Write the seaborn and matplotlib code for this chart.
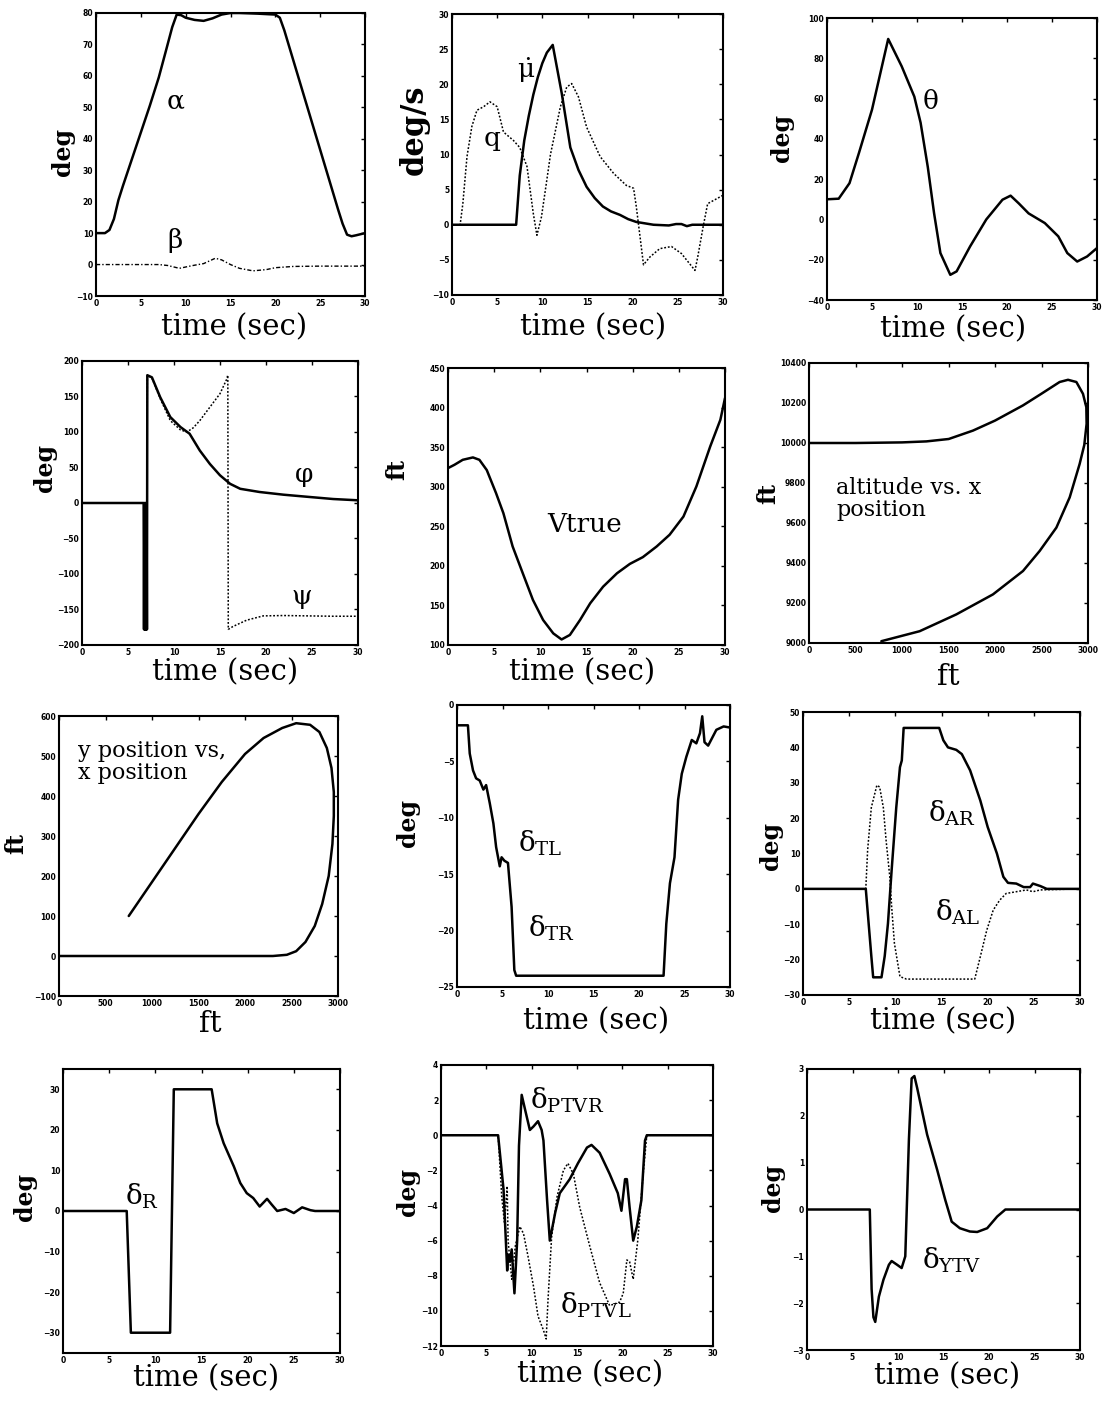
import matplotlib
matplotlib.use('Agg')
import matplotlib.pyplot as plt
import seaborn as sns

# ---- values ----
# angle of attack / sideslip
t_alpha = [0, 1, 1.5, 2, 2.5, 3, 4, 5, 6, 7, 7.8, 8.5, 9, 9.5, 10, 11, 12, 13, 14, 15, 16, 18, 20,
           20.5, 21, 22, 23, 24, 25, 26, 27, 27.5, 28, 28.5, 29, 30]
alpha = [10, 10, 11, 14.5, 20.5, 25, 33.5, 42, 50.5, 59.5, 68, 75.5, 79.5, 79.3, 78.5, 77.8, 77.5, 78.3,
         79.5, 80, 80, 79.8, 79.5, 78.5, 74.5, 65, 55.5, 46, 36.5, 27, 17.5, 13, 9.5, 9, 9.3, 10]
t_beta = [0, 7, 8, 9.3, 10.3, 11, 12, 13.3, 14, 15, 16, 17.5, 19, 20, 22, 25, 30]
beta = [0, 0, -0.3, -1.2, -0.6, -0.2, 0.3, 2.0, 1.5, 0, -1.2, -2.0, -1.6, -1.0, -0.6, -0.5, -0.5]

# rates
t_mudot = [0, 7.1, 7.5, 8, 8.5, 9, 9.5, 10, 10.5, 11.15, 11.6, 12.15, 13.1, 14, 14.9, 15.8, 16.7, 17.6,
           18.6, 19.5, 20.4, 22.3, 24, 24.8, 25.4, 26, 26.6, 27.2, 30]
mudot = [0, 0, 7, 12, 15.5, 18.5, 21, 23, 24.5, 25.6, 22.5, 18.7, 11, 7.8, 5.4, 3.8, 2.6, 1.9, 1.4, 0.8,
         0.4, 0, -0.1, 0.1, 0.1, -0.2, 0, 0, 0]
t_q = [0, 0.9, 1.2, 1.66, 2.2, 2.76, 3.5, 4.2, 5.0, 5.7, 6.8, 7.5, 8.3, 9.0, 9.4, 9.9, 10.4, 10.9, 12.0,
       12.7, 13.25, 14.0, 14.9, 16.4, 17.9, 19.3, 20.1, 20.4, 21.2, 21.9, 23.0, 24.3, 25.4, 26.9, 27.2,
       27.8, 28.3, 29.3, 30]
q = [0, 0, 3, 9.7, 14, 16.3, 16.8, 17.5, 16.8, 13.2, 12, 11, 8.3, 1.6, -1.5, 1.1, 5.5, 10, 16.8, 19.6,
     20.1, 18.2, 13.9, 9.7, 7.3, 5.6, 5.2, 2.6, -5.7, -4.6, -3.4, -3.1, -4.1, -6.5, -4.6, -0.3, 3, 3.7, 4.2]

# pitch
t_theta = [0, 1.3, 2.5, 3.55, 5.0, 6.8, 8.3, 9.7, 10.4, 11.2, 11.9, 12.6, 13.7, 14.4, 15.9, 17.7, 19.5,
           20.4, 21.3, 22.4, 24.2, 25.7, 26.7, 27.8, 28.9, 30]
theta = [10, 10.3, 18, 33, 54.5, 89.6, 76, 61, 48, 26, 3, -16.7, -27.5, -25.8, -13.4, 0, 9.8, 11.8, 8, 3,
         -1.8, -8.4, -16.7, -20.9, -18.4, -14.2]

# roll / heading
t_phi = [0, 6.7, 6.74, 6.78, 6.82, 6.86, 6.9, 6.94, 6.98, 7.02, 7.06, 7.1, 7.6, 8.5, 9.6, 10.7, 11.7,
         12.8, 13.9, 15.0, 16.1, 17.2, 19.3, 21.9, 24.8, 27.3, 30]
phi = [0, 0, -178, 0, -178, 0, -178, 0, -178, 0, -178, 180, 177, 149, 121, 107, 97.5, 74, 55, 39, 27, 20,
       15.5, 11.7, 8.4, 5.6, 3.8]
t_psi = [0, 7.06, 7.1, 7.6, 8.5, 9.6, 10.7, 11.4, 12.1, 12.8, 13.9, 15.0, 15.7, 15.85, 15.9, 16.4, 17.9,
         19.7, 21.9, 27.3, 30]
psi = [0, 0, 180, 176, 147, 116, 103, 100, 106, 116, 135, 154, 173.5, 180, -178, -174, -165, -159,
       -158.5, -159.5, -159.5]

# true airspeed
t_v = [0, 0.7, 1.6, 2.7, 3.4, 4.2, 5.2, 6.0, 7.0, 8.1, 9.2, 10.3, 11.4, 12.3, 13.2, 14.3, 15.4, 16.8,
       18.3, 19.7, 21.1, 22.6, 24.0, 25.5, 26.9, 28.4, 29.5, 30]
vtrue = [323.5, 327.7, 334, 337, 334, 321, 292, 266.5, 224.5, 190.6, 156.9, 131.6, 114.7, 107, 112.7,
         131.6, 152.7, 173.7, 190.6, 202.5, 211, 224.5, 239.3, 262.3, 300.3, 350.9, 384.6, 412]

# altitude vs x position
x_alt = [0, 500, 1000, 1262, 1502, 1763, 2000, 2301, 2498, 2695, 2785, 2875, 2946, 2982, 2985, 2960,
         2910, 2803, 2660, 2480, 2301, 1978, 1584, 1190, 778]
alt = [10000, 10000, 10003, 10008, 10020, 10062, 10112, 10188, 10246, 10305, 10316, 10305, 10246, 10179,
       10096, 9990, 9895, 9728, 9577, 9460, 9360, 9243, 9143, 9059, 9009]

# y position vs x position
x_pos = [0, 1000, 2000, 2300, 2450, 2550, 2650, 2750, 2830, 2900, 2940, 2955, 2955, 2930, 2880, 2800,
         2700, 2550, 2400, 2200, 2000, 1750, 1500, 1250, 1000, 750]
y_pos = [0, 0, 0, 0, 3, 12, 35, 75, 130, 200, 280, 350, 410, 470, 520, 560, 578, 582, 570, 545, 505,
         435, 355, 270, 185, 100]

# thrust / tail deflection
t_dt = [0, 1.2, 1.4, 1.76, 2.1, 2.5, 2.9, 3.2, 3.6, 4.0, 4.3, 4.7, 4.9, 5.2, 5.6, 6.0, 6.3, 6.5, 22.7,
        23.0, 23.4, 23.9, 24.3, 24.7, 25.2, 25.8, 26.3, 26.7, 26.95, 27.2, 27.6, 28.5, 29.3, 30]
dt = [-1.8, -1.8, -4.3, -5.8, -6.5, -6.7, -7.5, -7.1, -8.7, -10.5, -12.6, -14.3, -13.5, -13.8, -14,
      -17.9, -23.5, -24, -24, -19.4, -15.8, -13.5, -8.4, -6.1, -4.6, -3.1, -3.4, -2.5, -1, -3.3, -3.6,
      -2.2, -1.9, -2]

# ailerons
t_ar = [0, 6.8, 7.4, 7.6, 8.5, 8.85, 9.2, 9.6, 10.1, 10.5, 10.7, 10.9, 14.75, 15.2, 15.7, 16.6, 17.2,
        18.1, 19.2, 20.0, 21.0, 21.7, 22.2, 23.1, 23.9, 24.6, 24.9, 25.7, 26.4, 30]
ar = [0, 0, -19, -25, -25, -19, -9.8, 5.3, 23, 34.4, 36.3, 45.5, 45.5, 42, 40, 39.3, 38.1, 33.5, 25,
      17.5, 10, 3.4, 1.7, 1.5, 0.5, 0.5, 1.5, 0.8, 0, 0]
t_al = [0, 6.8, 7.0, 7.4, 8.0, 8.3, 8.7, 9.0, 9.4, 9.6, 9.9, 10.5, 11.2, 18.6, 19.2, 19.9, 20.6, 21.3,
        22.0, 23.1, 24.2, 24.9, 25.7, 30]
al = [0, 0, 11, 23, 29.3, 28.8, 23, 13.7, 3.4, -5, -15.4, -24.8, -25.5, -25.5, -19.2, -11.7, -6, -3.2,
      -1.3, -0.8, -0.3, -0.8, -0.3, 0]

# rudder
t_dr = [0, 6.9, 7.35, 11.6, 12.0, 16.1, 16.7, 17.4, 18.5, 19.2, 19.9, 20.6, 21.3, 22.1, 22.6, 23.2,
        24.1, 25.0, 25.9, 26.8, 27.3, 30]
dr = [0, 0, -30, -30, 30, 30, 21.6, 16.7, 11, 6.9, 4.4, 3.2, 1.1, 3, 1.6, 0, 0.5, -0.5, 0.9, 0.2, 0, 0]

# pitch thrust vectoring
t_ptvr = [0, 6.3, 6.9, 7.3, 7.4, 7.6, 7.8, 8.1, 8.4, 8.6, 8.9, 9.3, 9.8, 10.2, 10.7, 11.1, 11.3, 11.7,
          12.0, 12.6, 13.1, 14.2, 15.1, 16.1, 16.6, 17.5, 18.6, 19.5, 19.9, 20.3, 20.5, 20.8, 21.2,
          21.6, 22.1, 22.5, 22.7, 30]
ptvr = [0, 0, -3.1, -7.7, -6.8, -7.2, -6.5, -9, -6, -0.6, 2.3, 1.4, 0.3, 0.5, 0.8, 0.3, -0.3, -3.7, -6,
        -4.4, -3.3, -2.5, -1.6, -0.7, -0.55, -1, -2.2, -3.3, -4.3, -2.5, -2.5, -4.1, -6, -5.2, -3.7,
        -0.3, 0, 0]
t_ptvl = [0, 6.3, 6.7, 7.0, 7.3, 7.4, 7.8, 8.2, 8.7, 9.1, 9.6, 10.2, 10.7, 11.3, 11.6, 11.8, 12.2,
          12.8, 13.5, 14.0, 14.6, 15.3, 16.4, 17.5, 18.6, 19.7, 20.1, 20.5, 20.8, 21.2, 21.7, 22.3,
          22.7, 30]
ptvl = [0, 0, -3.5, -5, -2.9, -6, -8.2, -6.3, -5.2, -5.6, -6.9, -8.6, -10.3, -11.1, -11.6, -9.4, -5.8,
        -3.5, -2, -1.6, -2.2, -4.1, -6.3, -8.4, -9.7, -9.5, -9, -7.1, -7.2, -8.2, -6, -2.2, 0, 0]

# yaw thrust vectoring
t_ytv = [0, 6.9, 7.1, 7.3, 7.5, 7.9, 8.4, 9.0, 9.3, 9.9, 10.4, 10.8, 11.2, 11.5, 11.8, 12.1, 13.2,
         14.3, 15.2, 15.9, 16.8, 17.9, 18.7, 19.8, 20.9, 21.8, 30]
ytv = [0, 0, -1.7, -2.3, -2.4, -1.86, -1.5, -1.18, -1.1, -1.18, -1.25, -1.0, 1.5, 2.8, 2.85, 2.6, 1.6,
       0.85, 0.2, -0.26, -0.4, -0.47, -0.48, -0.4, -0.15, 0, 0]

time_ticks = [0, 5, 10, 15, 20, 25, 30]
ft_ticks = [0, 500, 1000, 1500, 2000, 2500, 3000]

SOLID = dict(linestyle='-', linewidth=1.8)
DOT = dict(linestyle=(0, (1.2, 1.2)), linewidth=1.1)
DASHDOT = dict(linestyle=(0, (3, 1.5, 1, 1.5)), linewidth=1.0)

# box = (left, top, right, bottom) in pixels; xl / yl = label centres in pixels
panels = [
    dict(box=(96, 13, 365, 296), xlim=(0, 30), ylim=(-10, 80), xt=time_ticks, yt=range(-10, 81, 10),
         xlabel='time (sec)', ylabel='deg', xl=(234, 327), yl=(63, 152), ysize=17,
         lines=[(t_alpha, alpha, SOLID), (t_beta, beta, DASHDOT)],
         notes=[(8.9, 52, 'α', 'center'), (8.8, 7.5, 'β', 'center')]),
    dict(box=(452, 14, 723, 295), xlim=(0, 30), ylim=(-10, 30), xt=time_ticks, yt=range(-10, 31, 5),
         xlabel='time (sec)', ylabel='deg/s', xl=(593, 327), yl=(414, 130), ysize=22,
         lines=[(t_mudot, mudot, SOLID), (t_q, q, DOT)],
         notes=[(8.2, 22, r'$\dot{\mathrm{\mu}}$', 'center'), (4.4, 12.3, 'q', 'center')]),
    dict(box=(827, 18, 1097, 300), xlim=(0, 30), ylim=(-40, 100), xt=time_ticks, yt=range(-40, 101, 20),
         xlabel='time (sec)', ylabel='deg', xl=(953, 329), yl=(782, 138), ysize=17,
         lines=[(t_theta, theta, SOLID)],
         notes=[(11.5, 58.6, 'θ', 'center')]),
    dict(box=(82, 361, 358, 645), xlim=(0, 30), ylim=(-200, 200), xt=time_ticks, yt=range(-200, 201, 50),
         xlabel='time (sec)', ylabel='deg', xl=(225, 672), yl=(45, 468), ysize=17,
         lines=[(t_phi, phi, SOLID), (t_psi, psi, DOT)],
         notes=[(24.1, 40, 'φ', 'center'), (23.9, -131, 'ψ', 'center')]),
    dict(box=(448, 368, 725, 645), xlim=(0, 30), ylim=(100, 450), xt=time_ticks, yt=range(100, 451, 50),
         xlabel='time (sec)', ylabel='ft', xl=(582, 672), yl=(397, 469), ysize=17,
         lines=[(t_v, vtrue, SOLID)],
         notes=[(14.8, 252, 'Vtrue', 'center')]),
    dict(box=(809, 363, 1088, 643), xlim=(0, 3000), ylim=(9000, 10400), xt=ft_ticks,
         yt=range(9000, 10401, 200), xlabel='ft', ylabel='ft', xl=(948, 677), yl=(768, 494), ysize=17,
         lines=[(x_alt, alt, SOLID)],
         notes=[(294, 9830, 'altitude vs. x\nposition', 'left')]),
    dict(box=(59, 716, 338, 996), xlim=(0, 3000), ylim=(-100, 600), xt=ft_ticks, yt=range(-100, 601, 100),
         xlabel='ft', ylabel='ft', xl=(210, 1024), yl=(16, 843), ysize=17,
         lines=[(x_pos, y_pos, SOLID)],
         notes=[(204, 540, 'y position vs,\nx position', 'left')]),
    dict(box=(457, 705, 730, 987), xlim=(0, 30), ylim=(-25, 0), xt=time_ticks, yt=range(-25, 1, 5),
         xlabel='time (sec)', ylabel='deg', xl=(596, 1021), yl=(408, 823), ysize=17,
         lines=[(t_dt, dt, SOLID)],
         notes=[(6.7, -12.3, r'$\mathrm{\delta}_{\rm TL}$', 'dleft'),
                (7.8, -19.8, r'$\mathrm{\delta}_{\rm TR}$', 'dleft')]),
    dict(box=(803, 712, 1080, 995), xlim=(0, 30), ylim=(-30, 50), xt=time_ticks, yt=range(-30, 51, 10),
         xlabel='time (sec)', ylabel='deg', xl=(943, 1021), yl=(771, 846), ysize=17,
         lines=[(t_ar, ar, SOLID), (t_al, al, DOT)],
         notes=[(13.55, 21.3, r'$\mathrm{\delta}_{\rm AR}$', 'dleft'),
                (14.3, -6.7, r'$\mathrm{\delta}_{\rm AL}$', 'dleft')]),
    dict(box=(63, 1069, 340, 1353), xlim=(0, 30), ylim=(-35, 35), xt=time_ticks, yt=range(-30, 31, 10),
         xlabel='time (sec)', ylabel='deg', xl=(206, 1378), yl=(25, 1197), ysize=17,
         lines=[(t_dr, dr, SOLID)],
         notes=[(6.7, 3.6, r'$\mathrm{\delta}_{\rm R}$', 'dleft')]),
    dict(box=(441, 1065, 713, 1346), xlim=(0, 30), ylim=(-12, 4), xt=time_ticks, yt=range(-12, 5, 2),
         xlabel='time (sec)', ylabel='deg', xl=(590, 1374), yl=(408, 1192), ysize=17,
         lines=[(t_ptvr, ptvr, SOLID), (t_ptvl, ptvl, DOT)],
         notes=[(9.8, 2.0, r'$\mathrm{\delta}_{\rm PTVR}$', 'dleft'),
                (13.1, -9.66, r'$\mathrm{\delta}_{\rm PTVL}$', 'dleft')]),
    dict(box=(807, 1069, 1080, 1350), xlim=(0, 30), ylim=(-3, 3), xt=time_ticks, yt=range(-3, 4, 1),
         xlabel='time (sec)', ylabel='deg', xl=(947, 1376), yl=(773, 1188), ysize=17,
         lines=[(t_ytv, ytv, SOLID)],
         notes=[(12.6, -1.09, r'$\mathrm{\delta}_{\rm YTV}$', 'dleft')]),
]

sns.set_theme(style='white')
plt.rcParams['font.family'] = ['DejaVu Serif']
plt.rcParams['mathtext.fontset'] = 'dejavuserif'
plt.rcParams['axes.edgecolor'] = 'black'
plt.rcParams['axes.linewidth'] = 1.5

W, H = 1103, 1401
fig = plt.figure(figsize=(W / 100, H / 100), dpi=100)
fig.patch.set_facecolor('white')

for p in panels:
    l, t, r, b = p['box']
    ax = fig.add_axes([l / W, 1 - b / H, (r - l) / W, (b - t) / H])
    for xs, ys, st in p['lines']:
        sns.lineplot(x=xs, y=ys, ax=ax, color='black', estimator=None, sort=False, **st)
    ax.set_xlim(*p['xlim'])
    ax.set_ylim(*p['ylim'])
    ax.set_xticks(list(p['xt']))
    ax.set_yticks(list(p['yt']))
    ax.tick_params(direction='in', top=True, right=True, length=3, width=1, pad=2,
                   labelsize=5.5, colors='black')
    for lbl in ax.get_xticklabels() + ax.get_yticklabels():
        lbl.set_fontweight('bold')
        lbl.set_family('DejaVu Sans')

    ax.set_xlabel(p['xlabel'], fontsize=21, color='black', va='center')
    ax.xaxis.set_label_coords((p['xl'][0] - l) / (r - l), (b - p['xl'][1]) / (b - t))
    ax.set_ylabel(p['ylabel'], fontsize=p['ysize'], fontweight='bold', color='black', va='center')
    ax.yaxis.set_label_coords((p['yl'][0] - l) / (r - l), (b - p['yl'][1]) / (b - t))

    for x, y, s, how in p['notes']:
        if how == 'center':
            ax.text(x, y, s, fontsize=19, ha='center', va='center', color='black')
        elif how == 'dleft':
            ax.text(x, y, s, fontsize=20, ha='left', va='center', color='black')
        else:
            ax.text(x, y, s, fontsize=16, ha='left', va='top', color='black', linespacing=1.0)

fig.savefig('out.png', dpi=100, facecolor='white')
